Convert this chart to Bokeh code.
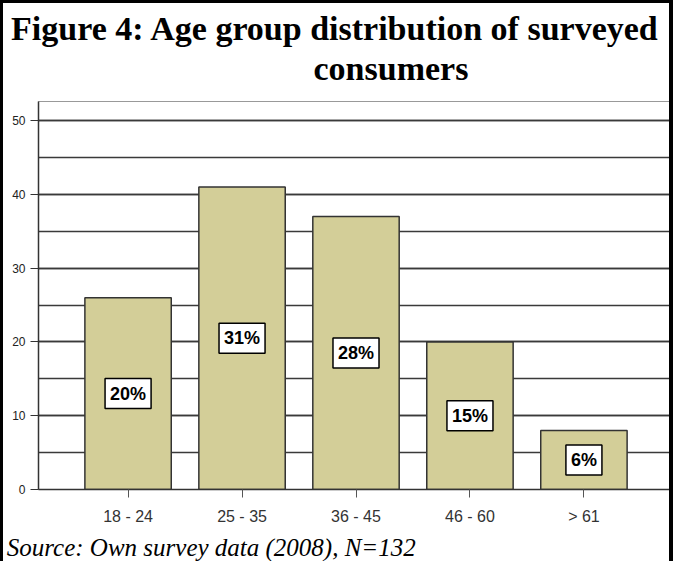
from bokeh.plotting import figure
from bokeh.models import Range1d, FixedTicker, SingleIntervalTicker, Label, Title
from bokeh.embed import file_html
from bokeh.resources import INLINE

categories = ["18 - 24", "25 - 35", "36 - 45", "46 - 60", "> 61"]
counts = [26, 41, 37, 20, 8]
percents = ["20%", "31%", "28%", "15%", "6%"]
title_line1 = "Figure 4: Age group distribution of surveyed"
title_line2 = "consumers"
source_text = "Source: Own survey data (2008), N=132"

xs = list(range(len(categories)))

p = figure(width=666, height=558, output_backend="svg", toolbar_location=None,
           x_range=Range1d(-0.786, len(categories) - 1 + 0.786),
           y_range=Range1d(0, 52.6),
           min_border_left=35, min_border_right=3, min_border_top=98,
           min_border_bottom=75)
p.styles = {"box-sizing": "content-box",
            "border-top": "3px solid black", "border-left": "3px solid black",
            "border-right": "4px solid black"}
p.background_fill_color = "white"
p.border_fill_color = "white"
p.outline_line_color = "#999999"
p.outline_line_width = 1

p.vbar(x=xs, top=counts, width=0.758, bottom=0, fill_color="#d3ce98",
       line_color="#333333", line_width=1.5)

for x, c, t in zip(xs, counts, percents):
    p.add_layout(Label(x=x, y=c / 2, text=t, text_align="center", text_baseline="middle",
                       text_font="Liberation Sans", text_font_style="bold",
                       text_font_size="18px", text_color="black",
                       background_fill_color="white", border_line_color="black",
                       border_line_width=1.5, padding=5))

# axes
p.xgrid.grid_line_color = None
p.xaxis.ticker = FixedTicker(ticks=xs)
p.xaxis.major_label_overrides = {i: c for i, c in enumerate(categories)}
p.xaxis.major_tick_out = 8
p.xaxis.major_tick_in = 0
p.xaxis.major_tick_line_color = "#555555"
p.xaxis.minor_tick_line_color = None
p.xaxis.axis_line_color = "#333333"
p.xaxis.axis_line_width = 1.5
p.xaxis.major_label_text_font = "Liberation Sans"
p.xaxis.major_label_text_font_size = "16px"
p.xaxis.major_label_text_color = "#333333"
p.xaxis.major_label_standoff = 10

p.yaxis.ticker = SingleIntervalTicker(interval=10, num_minor_ticks=2)
p.yaxis.major_tick_out = 8
p.yaxis.major_tick_in = 0
p.yaxis.minor_tick_line_color = None
p.yaxis.major_tick_line_color = "#333333"
p.yaxis.axis_line_color = "#333333"
p.yaxis.axis_line_width = 1.5
p.yaxis.major_label_text_font = "Liberation Sans"
p.yaxis.major_label_text_font_size = "12px"
p.yaxis.major_label_text_color = "#222222"
p.yaxis.major_label_standoff = 5

p.ygrid.grid_line_color = "#3a3a3a"
p.ygrid.grid_line_width = 1.5
p.ygrid.minor_grid_line_color = "#3a3a3a"
p.ygrid.minor_grid_line_width = 1.5

# titles: spacer (nearest the frame), second line, first line
p.add_layout(Title(text=" ", text_font_size="1px", standoff=12), "above")
p.add_layout(Title(text=title_line2, align="left", offset=275,
                   text_font="Liberation Serif", text_font_style="bold",
                   text_font_size="34px", text_color="black", standoff=0), "above")
p.add_layout(Title(text=title_line1, align="left", offset=-27.4,
                   text_font="Liberation Serif", text_font_style="bold",
                   text_font_size="34px", text_color="black", standoff=2), "above")
p.add_layout(Title(text=source_text, align="left", offset=-31.7,
                   text_font="Liberation Serif", text_font_style="italic",
                   text_font_size="25px", text_color="black", standoff=8), "below")

open("out.html", "w").write(file_html(p, INLINE))
